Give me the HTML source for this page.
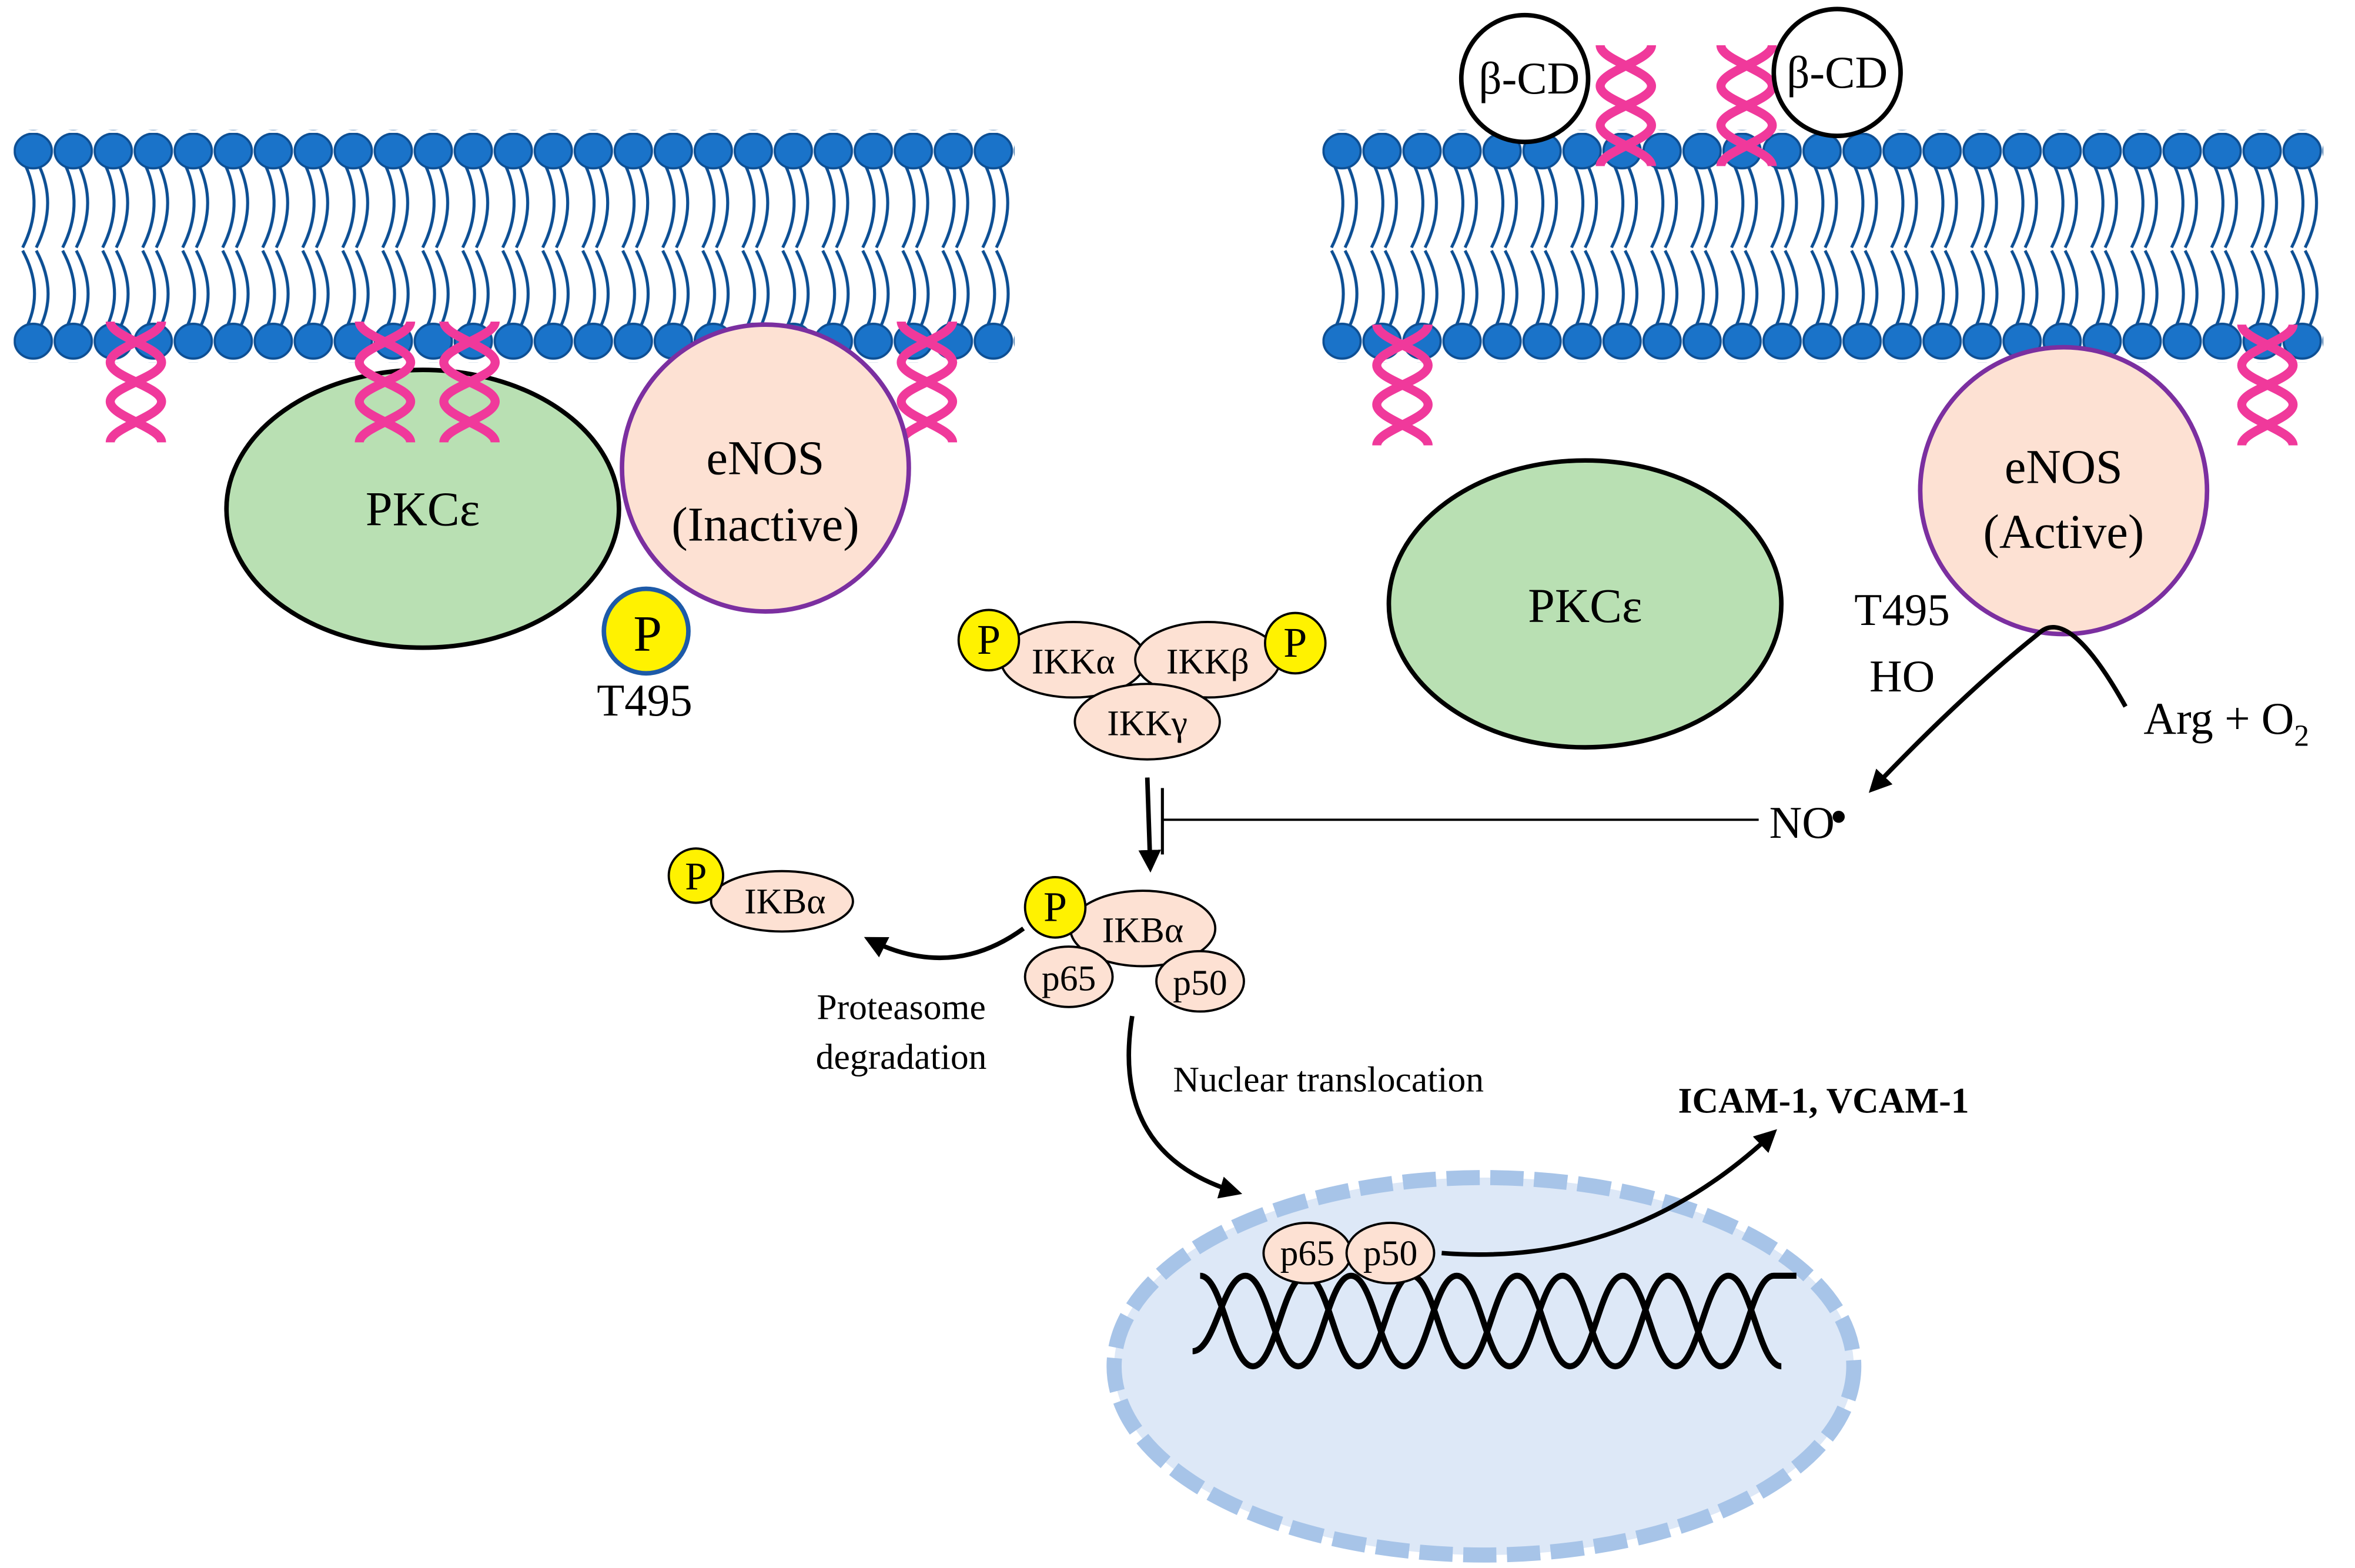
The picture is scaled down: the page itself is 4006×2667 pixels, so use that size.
<!DOCTYPE html>
<html><head><meta charset="utf-8"><style>html,body{margin:0;padding:0;background:#fff}svg{display:block}</style></head>
<body>
<svg xmlns="http://www.w3.org/2000/svg" width="4006" height="2667" viewBox="0 0 1560 1038.6" font-family="Liberation Serif, serif">
<defs>
<g id="cell">
<g fill="none" stroke="#0d4f94" stroke-width="2">
<path d="M8 22 Q20 48 6 76"/><path d="M17 22 Q29 48 15 76"/>
<path d="M6 78 Q20 104 9 128"/><path d="M15 78 Q29 104 18 128"/>
</g>
<ellipse cx="13" cy="12" rx="12.3" ry="11.5" fill="#1a73c9" stroke="#0d4f94" stroke-width="1.5"/>
<ellipse cx="13" cy="138" rx="12.3" ry="11.5" fill="#1a73c9" stroke="#0d4f94" stroke-width="1.5"/>
</g>
<pattern id="mem" patternUnits="userSpaceOnUse" x="9" y="88" width="26.5" height="152"><use href="#cell"/></pattern>
<pattern id="mem2" patternUnits="userSpaceOnUse" x="876" y="88" width="26.5" height="152"><use href="#cell"/></pattern>
<g id="hx" fill="none" stroke="#f0399b" stroke-width="6">
<path d="M-17 0 C-17 10,17 17,17 27 C17 37,-17 43,-17 53 C-17 63,17 70,17 80"/>
<path d="M17 0 C17 10,-17 17,-17 27 C-17 37,17 43,17 53 C17 63,-17 70,-17 80"/>
</g>
<marker id="ah" viewBox="0 0 10 10" refX="8" refY="5" markerWidth="5" markerHeight="5" orient="auto"><path d="M0 0 L10 5 L0 10 Z" fill="#000"/></marker>
</defs>
<rect width="1560" height="1039" fill="#fff"/>
<rect x="9" y="86" width="663" height="154" fill="url(#mem)"/>
<rect x="876" y="86" width="663" height="154" fill="url(#mem2)"/>
<use href="#hx" x="90" y="213"/>
<use href="#hx" x="614" y="213"/>
<use href="#hx" x="929" y="215"/>
<use href="#hx" x="1502" y="215"/>
<use href="#hx" x="1077" y="30"/>
<use href="#hx" x="1157" y="30"/>
<circle cx="1010" cy="52" r="42" fill="#fff" stroke="#000" stroke-width="3"/>
<text x="1013" y="62" font-size="30" text-anchor="middle">β-CD</text>
<circle cx="1217" cy="48" r="42" fill="#fff" stroke="#000" stroke-width="3"/>
<text x="1217" y="58" font-size="30" text-anchor="middle">β-CD</text>
<ellipse cx="280" cy="337" rx="130" ry="92" fill="#b9e0b3" stroke="#000" stroke-width="3"/>
<use href="#hx" x="255" y="213"/><use href="#hx" x="311" y="213"/>
<text x="280" y="348" font-size="32" text-anchor="middle">PKCε</text>
<circle cx="507" cy="310" r="95" fill="#fde1d3" stroke="#7b2fa0" stroke-width="3"/>
<text x="507" y="314" font-size="32" text-anchor="middle">eNOS</text>
<text x="507" y="358" font-size="32" text-anchor="middle">(Inactive)</text>
<circle cx="428" cy="418" r="28" fill="#fff200" stroke="#1d5aa8" stroke-width="3"/>
<text x="429" y="431" font-size="34" text-anchor="middle">P</text>
<text x="427" y="474" font-size="30" text-anchor="middle">T495</text>
<ellipse cx="1050" cy="400" rx="130" ry="95" fill="#b9e0b3" stroke="#000" stroke-width="3"/>
<text x="1050" y="412" font-size="32" text-anchor="middle">PKCε</text>
<circle cx="1367" cy="325" r="95" fill="#fde1d3" stroke="#7b2fa0" stroke-width="3"/>
<text x="1367" y="320" font-size="32" text-anchor="middle">eNOS</text>
<text x="1367" y="363" font-size="32" text-anchor="middle">(Active)</text>
<text x="1260" y="414" font-size="30" text-anchor="middle">T495</text>
<text x="1260" y="458" font-size="30" text-anchor="middle">HO</text>
<text x="1420" y="486" font-size="30">Arg + O<tspan font-size="20" dy="8">2</tspan></text>
<path d="M1408 468 Q1370 400 1350 420 Q1300 460 1240 523" fill="none" stroke="#000" stroke-width="3" marker-end="url(#ah)"/>
<text x="1172" y="555" font-size="30">NO</text>
<circle cx="1218" cy="541" r="4" fill="#000"/>
<line x1="1165" y1="543" x2="770" y2="543" stroke="#000" stroke-width="1.5"/>
<line x1="770" y1="522" x2="770" y2="566" stroke="#000" stroke-width="2"/>
<line x1="760" y1="515" x2="762" y2="575" stroke="#000" stroke-width="3" marker-end="url(#ah)"/>
<g stroke="#000" stroke-width="1.5">
<ellipse cx="711" cy="437" rx="48" ry="25" fill="#fde1d3"/>
<ellipse cx="800" cy="437" rx="48" ry="25" fill="#fde1d3"/>
<ellipse cx="760" cy="478" rx="48" ry="25" fill="#fde1d3"/>
<circle cx="655" cy="424" r="20" fill="#fff200"/>
<circle cx="858" cy="426" r="20" fill="#fff200"/>
<ellipse cx="757" cy="615" rx="48" ry="25" fill="#fde1d3"/>
<ellipse cx="708" cy="647" rx="29" ry="20" fill="#fde1d3"/>
<ellipse cx="795" cy="650" rx="29" ry="20" fill="#fde1d3"/>
<circle cx="699" cy="601" r="20" fill="#fff200"/>
<ellipse cx="518" cy="597" rx="47" ry="20" fill="#fde1d3"/>
<circle cx="461" cy="580" r="18" fill="#fff200"/>
</g>
<g font-size="24" text-anchor="middle">
<text x="655" y="433" font-size="28">P</text>
<text x="858" y="435" font-size="28">P</text>
<text x="711" y="446">IKKα</text>
<text x="800" y="446">IKKβ</text>
<text x="760" y="487">IKKγ</text>
<text x="699" y="610" font-size="28">P</text>
<text x="757" y="624">IKBα</text>
<text x="708" y="656">p65</text>
<text x="795" y="659">p50</text>
<text x="461" y="589" font-size="26">P</text>
<text x="520" y="605">IKBα</text>
<text x="597" y="675">Proteasome</text>
<text x="597" y="708">degradation</text>
<text x="880" y="723">Nuclear translocation</text>
<text x="955" y="994">Nucleus</text>
<text x="1208" y="737" font-weight="bold">ICAM-1, VCAM-1</text>
</g>
<path d="M678 615 Q630 650 575 622" fill="none" stroke="#000" stroke-width="3" marker-end="url(#ah)"/>
<path d="M750 673 Q735 765 820 790" fill="none" stroke="#000" stroke-width="3" marker-end="url(#ah)"/>
<ellipse cx="983" cy="905" rx="245" ry="125" fill="#dde8f7" stroke="#a7c4e8" stroke-width="10" stroke-dasharray="22 7"/>
<g fill="none" stroke="#000" stroke-width="4">
<path d="M790 895 C805 895,810 845,825 845 S845 905,860 905 S880 845,895 845 S915 905,930 905 S950 845,965 845 S985 905,1000 905 S1020 845,1035 845 S1055 905,1070 905 S1090 845,1105 845 S1125 905,1140 905 S1160 845,1175 845 L1190 845"/>
<path d="M795 845 C810 845,815 905,830 905 S850 845,865 845 S885 905,900 905 S920 845,935 845 S955 905,970 905 S990 845,1005 845 S1025 905,1040 905 S1060 845,1075 845 S1095 905,1110 905 S1130 845,1145 845 S1165 905,1180 905"/>
</g>
<g stroke="#000" stroke-width="1.5">
<ellipse cx="866" cy="830" rx="29" ry="20" fill="#fde1d3"/>
<ellipse cx="921" cy="830" rx="29" ry="20" fill="#fde1d3"/>
</g>
<g font-size="24" text-anchor="middle"><text x="866" y="838">p65</text><text x="921" y="838">p50</text></g>
<path d="M955 830 Q1080 840 1175 750" fill="none" stroke="#000" stroke-width="3" marker-end="url(#ah)"/>
</svg>
</body></html>
